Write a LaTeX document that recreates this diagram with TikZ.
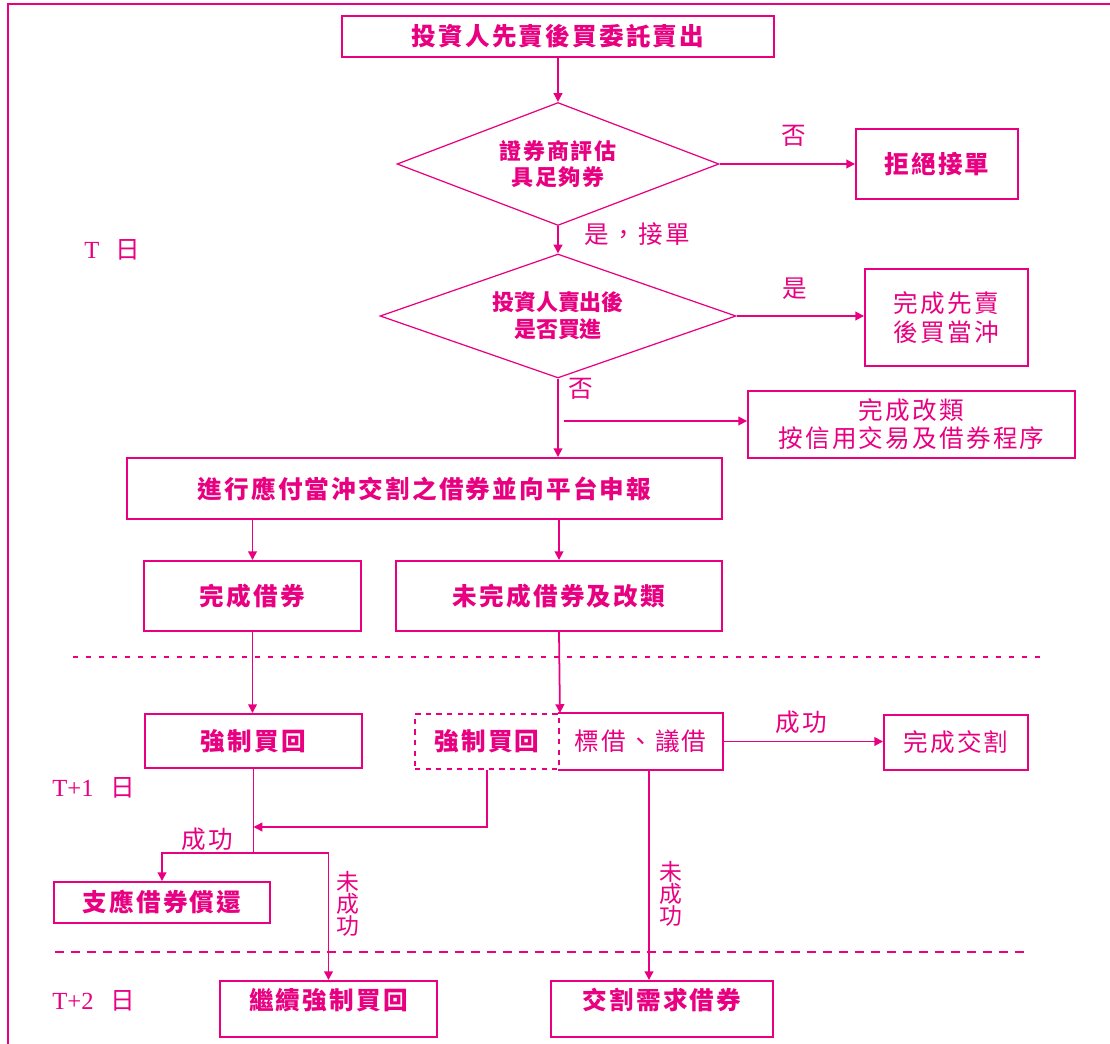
\documentclass[tikz,border=0pt]{standalone}
\usepackage{fontspec}
\usepackage{tikz}
\usetikzlibrary{shapes.geometric,arrows.meta,positioning,calc}

\newfontfamily\cjk[LetterSpace=9]{Noto Sans CJK TC}
\newfontfamily\cjktight{Noto Sans CJK TC}
\newfontfamily\romfont{Liberation Serif}
\definecolor{pk}{RGB}{232,0,128}
\newcommand{\daylab}[1]{{\romfont #1}\hspace{0.33cm}{\cjktight 日}}

\begin{document}
\begin{tikzpicture}[
  x=0.02cm, y=-0.02cm,
  box/.style={draw=pk, line width=1.1pt, text=pk, inner sep=0pt, align=center,
              font=\cjk\bfseries\fontsize{14pt}{16pt}\selectfont},
  thinbox/.style={box, font=\cjk\fontsize{14pt}{16pt}\selectfont},
  dia/.style={diamond, aspect=2.6, draw=pk, line width=0.7pt, text=pk, inner sep=0pt,
              align=center, font=\cjk\bfseries\fontsize{12.5pt}{15.3pt}\selectfont},
  arr/.style={-{Triangle[length=5pt,width=5pt]}, draw=pk, line width=1pt},
  lab/.style={text=pk, inner sep=0pt, font=\cjk\fontsize{14pt}{16pt}\selectfont},
  vlab/.style={lab, align=center, font=\cjktight\fontsize{13pt}{12.5pt}\selectfont},
  hi/.style={text height=0.3cm, text depth=0.3cm},
  daysep/.style={draw=pk, line width=0.6pt}
]
\useasboundingbox (0,0) rectangle (1110,1044);
\draw[pk, line width=0.8pt] (8,1044) -- (8,4) -- (1110,4);

% day T
\node[box, minimum width=8.64cm, minimum height=0.82cm] (order) at (558,36.5) {投資人先賣後買委託賣出};
\node[dia, minimum width=6.44cm, minimum height=2.46cm] (check) at (558,164) {證券商評估\\具足夠券};
\node[box, minimum width=3.24cm, minimum height=1.40cm] (reject) at (937,164) {拒絕接單};
\node[dia, font=\cjktight\bfseries\fontsize{12.5pt}{15.3pt}\selectfont,
      minimum width=7.12cm, minimum height=2.48cm] (bought) at (558,316) {投資人賣出後\\是否買進};
\node[thinbox, font=\cjk\fontsize{14pt}{16.4pt}\selectfont,
      minimum width=3.26cm, minimum height=1.94cm] (daytrade) at (946.5,317.5) {完成先賣\\後買當沖};
\node[thinbox, minimum width=6.54cm, minimum height=1.34cm] (reclass) at (911.5,424.5) {完成改類\\按信用交易及借券程序};
\node[box, minimum width=11.9cm, minimum height=1.22cm] (report) at (424.5,488.5) {進行應付當沖交割之借券並向平台申報};
\node[box, minimum width=4.34cm, minimum height=1.40cm] (lent) at (252.5,596) {完成借券};
\node[box, minimum width=6.52cm, minimum height=1.40cm] (unlent) at (559,596) {未完成借券及改類};

\draw[arr] (order.south) -- (check.north);
\draw[arr] (check.east) -- (reject.west) node[lab, pos=0.55, above=0.33cm] (no1) {否};
\draw[arr] (check.south) -- (bought.north) node[lab, pos=0.3, right=0.52cm] (yes1) {是，接單};
\draw[arr] (bought.east) -- (bought.east -| daytrade.west) node[lab, pos=0.46, above=0.31cm] (yes2) {是};
\draw[arr] (bought.south) -- (bought.south |- report.north) node[lab, pos=0.13, right=0.2cm] (no2) {否};
\coordinate (fork) at (564,421);
\draw[arr] (fork) -- (fork -| reclass.west);
\draw[arr] (lent.north |- report.south) -- (lent.north);
\draw[arr] (unlent.north |- report.south) -- (unlent.north);

\draw[daysep, dash pattern=on 0.1cm off 0.16cm] (73,657) -- (1045,657);

% day T+1
\node[box, minimum width=4.34cm, minimum height=1.08cm] (buyin) at (253.5,741) {強制買回};
\node[box, dashed, minimum width=2.88cm, minimum height=1.10cm] (buyin2) at (487,741.5) {強制買回};
\node[thinbox, draw=none, minimum width=3.26cm, minimum height=1.10cm] (borrow) at (640.5,741.5) {標借、議借};
\draw[pk, line width=1.1pt] (borrow.north west) -- (borrow.north east) -- (borrow.south east) -- (borrow.south west);
\node[thinbox, minimum width=2.88cm, minimum height=1.10cm] (settle) at (956,742.5) {完成交割};
\node[box, minimum width=4.32cm, minimum height=0.82cm] (repay) at (162,902.5) {支應借券償還};

\draw[arr] (lent.south) -- (lent.south |- buyin.north);
\draw[arr] (unlent.south) -- (buyin2.north east);
\draw[arr] (borrow.east) -- (borrow.east -| settle.west) node[lab, pos=0.49, above=0.13cm] (ok1) {成功};
\coordinate (merge) at (253.5,827);
\coordinate (split) at (253.5,853);
\draw[arr, line width=0.8pt] (buyin2.south) |- (merge);
\draw[pk, line width=0.6pt] (buyin.south) -- (split) node[lab, pos=0.84, left=0.4cm] (ok2) {成功};
\draw[arr] (split) -| (repay.north);

\draw[daysep, dash pattern=on 0.18cm off 0.14cm] (55,952) -- (1027,952);

% day T+2
\node[box, hi, minimum width=4.34cm, minimum height=1.12cm] (again) at (328.5,1009) {繼續強制買回};
\node[box, hi, minimum width=4.44cm, minimum height=1.12cm] (demand) at (662,1009) {交割需求借券};

\draw[arr] (split) -| (again.north) node[vlab, pos=0.7, right=0.14cm] (fail1) {未\\成\\功};
\draw[arr] ([xshift=0.17cm]borrow.south) -- ([xshift=0.17cm]borrow.south |- demand.north)
  node[vlab, pos=0.59, right=0.2cm] (fail2) {未\\成\\功};

% day labels
\node[lab, anchor=west, font=\fontsize{14pt}{16pt}\selectfont] (dayT) at (84,250) {\daylab{T}};
\node[lab, anchor=west, font=\fontsize{14pt}{16pt}\selectfont] (dayT1) at (52,788) {\daylab{T+1}};
\node[lab, anchor=west, font=\fontsize{14pt}{16pt}\selectfont] (dayT2) at (52,1001) {\daylab{T+2}};
\end{tikzpicture}
\end{document}
